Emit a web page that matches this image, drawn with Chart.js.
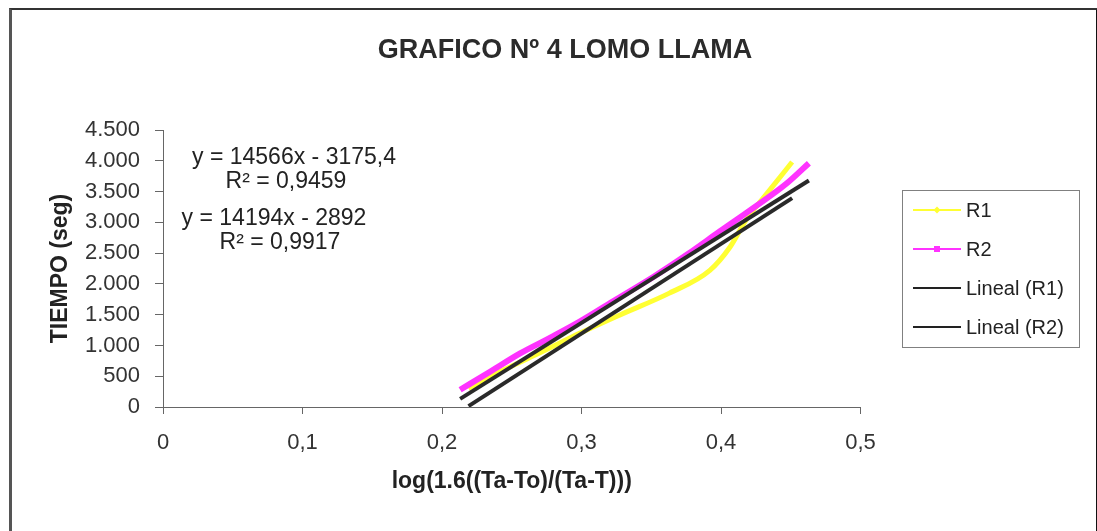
<!DOCTYPE html>
<html>
<head>
<meta charset="utf-8">
<script src="https://cdn.jsdelivr.net/npm/chart.js@4/dist/chart.umd.min.js"></script>
<style>
  body { margin: 0; background: #fff; }
  #wrap { position: relative; width: 1097px; height: 531px; overflow: hidden; }
  #frame { position: absolute; left: 9px; top: 8px; width: 1084px; height: 600px;
           border-left: 3px solid #555; border-top: 2px solid #333; border-right: 3px solid #111; }
  canvas { position: absolute; left: 0; top: 0; }
</style>
</head>
<body>
<div id="wrap">
  <div id="frame"></div>
  <canvas id="myChart" width="1097" height="531"></canvas>
</div>
<script>
// values
var r1X = [0.219, 0.244, 0.272, 0.299, 0.328, 0.363, 0.392, 0.4065, 0.418, 0.433, 0.451];
var r1Y = [300, 600, 900, 1200, 1500, 1850, 2220, 2600, 3040, 3470, 3980];
var r2X = [0.213, 0.235, 0.256, 0.278, 0.299, 0.325, 0.352, 0.376, 0.399, 0.423, 0.447, 0.463];
var r2Y = [280, 580, 870, 1130, 1390, 1750, 2120, 2480, 2850, 3230, 3630, 3960];

// trend lines as printed on the chart
var trendSlope = [14566, 14194];
var trendIntercept = [-3175.4, -2892];
var equations = ["y = 14566x - 3175,4", "R² = 0,9459", "y = 14194x - 2892", "R² = 0,9917"];

var legendLabels = ["R1", "R2", "Lineal (R1)", "Lineal (R2)"];
var xTicks = [0, 0.1, 0.2, 0.3, 0.4, 0.5];
var yTicks = [0, 500, 1000, 1500, 2000, 2500, 3000, 3500, 4000, 4500];

function pts(xs, ys) {
  return xs.map(function (x, i) { return { x: x, y: ys[i] }; });
}
function trend(xs, k) {
  var a = xs[0], b = xs[xs.length - 1];
  return [
    { x: a, y: trendSlope[k] * a + trendIntercept[k] },
    { x: b, y: trendSlope[k] * b + trendIntercept[k] }
  ];
}
function dots(v) {
  return String(v).replace(/\B(?=(\d{3})+(?!\d))/g, ".");
}

var FONT = "'Liberation Sans', Arial, sans-serif";

var extras = {
  id: "extras",
  afterDraw: function (chart) {
    var ctx = chart.ctx;
    ctx.save();
    // title
    ctx.fillStyle = "#2b2b2b";
    ctx.textAlign = "center";
    ctx.textBaseline = "middle";
    ctx.font = "bold 27px " + FONT;
    ctx.fillText("GRAFICO Nº 4 LOMO LLAMA", 565, 51);

    // equations
    ctx.font = "23px " + FONT;
    ctx.fillStyle = "#222";
    var eqPos = [[294, 158], [286, 182], [274, 219], [280, 243]];
    equations.forEach(function (t, i) {
      ctx.fillText(t, eqPos[i][0], eqPos[i][1]);
    });

    // legend
    ctx.strokeStyle = "#808080";
    ctx.lineWidth = 1;
    ctx.strokeRect(902.5, 190.5, 177, 157);
    var colors = ["#ffff33", "#ff33ff", "#222", "#222"];
    var rows = [210, 249, 288, 327];
    ctx.textAlign = "left";
    ctx.font = "20px " + FONT;
    legendLabels.forEach(function (t, i) {
      var y = rows[i];
      ctx.strokeStyle = colors[i];
      ctx.lineWidth = 2;
      ctx.beginPath();
      ctx.moveTo(913, y);
      ctx.lineTo(961, y);
      ctx.stroke();
      ctx.fillStyle = colors[i];
      if (i === 0) {
        ctx.beginPath();
        ctx.moveTo(937, y - 3.5); ctx.lineTo(940.5, y); ctx.lineTo(937, y + 3.5); ctx.lineTo(933.5, y);
        ctx.closePath(); ctx.fill();
      } else if (i === 1) {
        ctx.fillRect(934, y - 3, 6, 6);
      }
      ctx.fillStyle = "#222";
      ctx.fillText(t, 966, y + 1);
    });
    ctx.restore();
  }
};

new Chart("myChart", {
  type: "scatter",
  data: {
    datasets: [
      {
        label: "R1", data: pts(r1X, r1Y), showLine: true, borderColor: "#ffff33",
        backgroundColor: "#ffff33", borderWidth: 5, pointRadius: 0,
        cubicInterpolationMode: "monotone", order: 3
      },
      {
        label: "R2", data: pts(r2X, r2Y), showLine: true, borderColor: "#ff33ff",
        backgroundColor: "#ff33ff", borderWidth: 6, pointRadius: 0,
        cubicInterpolationMode: "monotone", order: 2
      },
      {
        label: "Lineal (R1)", data: trend(r1X, 0), showLine: true, borderColor: "#2a2a2a",
        borderWidth: 4, pointRadius: 0, order: 1
      },
      {
        label: "Lineal (R2)", data: trend(r2X, 1), showLine: true, borderColor: "#2a2a2a",
        borderWidth: 4, pointRadius: 0, order: 0
      }
    ]
  },
  options: {
    responsive: false,
    animation: false,
    layout: { padding: { left: 40, right: 236.5, top: 130, bottom: 24 } },
    plugins: {
      legend: { display: false },
      title: { display: false },
      tooltip: { enabled: false }
    },
    scales: {
      x: {
        type: "linear", min: 0, max: 0.5,
        afterBuildTicks: function (s) { s.ticks = xTicks.map(function (v) { return { value: v }; }); },
        afterFit: function (s) { s.height = 100; },
        grid: { drawOnChartArea: false, drawTicks: true, tickLength: 7, color: "#666" },
        border: { display: true, color: "#666", width: 1 },
        ticks: {
          padding: 16, color: "#333", font: { family: FONT, size: 22 },
          callback: function (v) { return v === 0 ? "0" : v.toFixed(1).replace(".", ","); }
        },
        title: {
          display: true, text: "log(1.6((Ta-To)/(Ta-T)))", color: "#222",
          font: { family: FONT, size: 23, weight: "bold" }, padding: { top: 0, bottom: 12 }
        }
      },
      y: {
        type: "linear", min: 0, max: 4500,
        afterBuildTicks: function (s) { s.ticks = yTicks.map(function (v) { return { value: v }; }); },
        afterFit: function (s) { s.width = 123; },
        grid: { drawOnChartArea: false, drawTicks: true, tickLength: 8, color: "#666" },
        border: { display: true, color: "#666", width: 1 },
        ticks: {
          padding: 15, color: "#333", font: { family: FONT, size: 22 },
          callback: function (v) { return dots(v); }
        },
        title: {
          display: true, text: "TIEMPO (seg)", color: "#222",
          font: { family: FONT, size: 23, weight: "bold" }, padding: { top: 7, bottom: 0 }
        }
      }
    }
  },
  plugins: [extras]
});
</script>
</body>
</html>
